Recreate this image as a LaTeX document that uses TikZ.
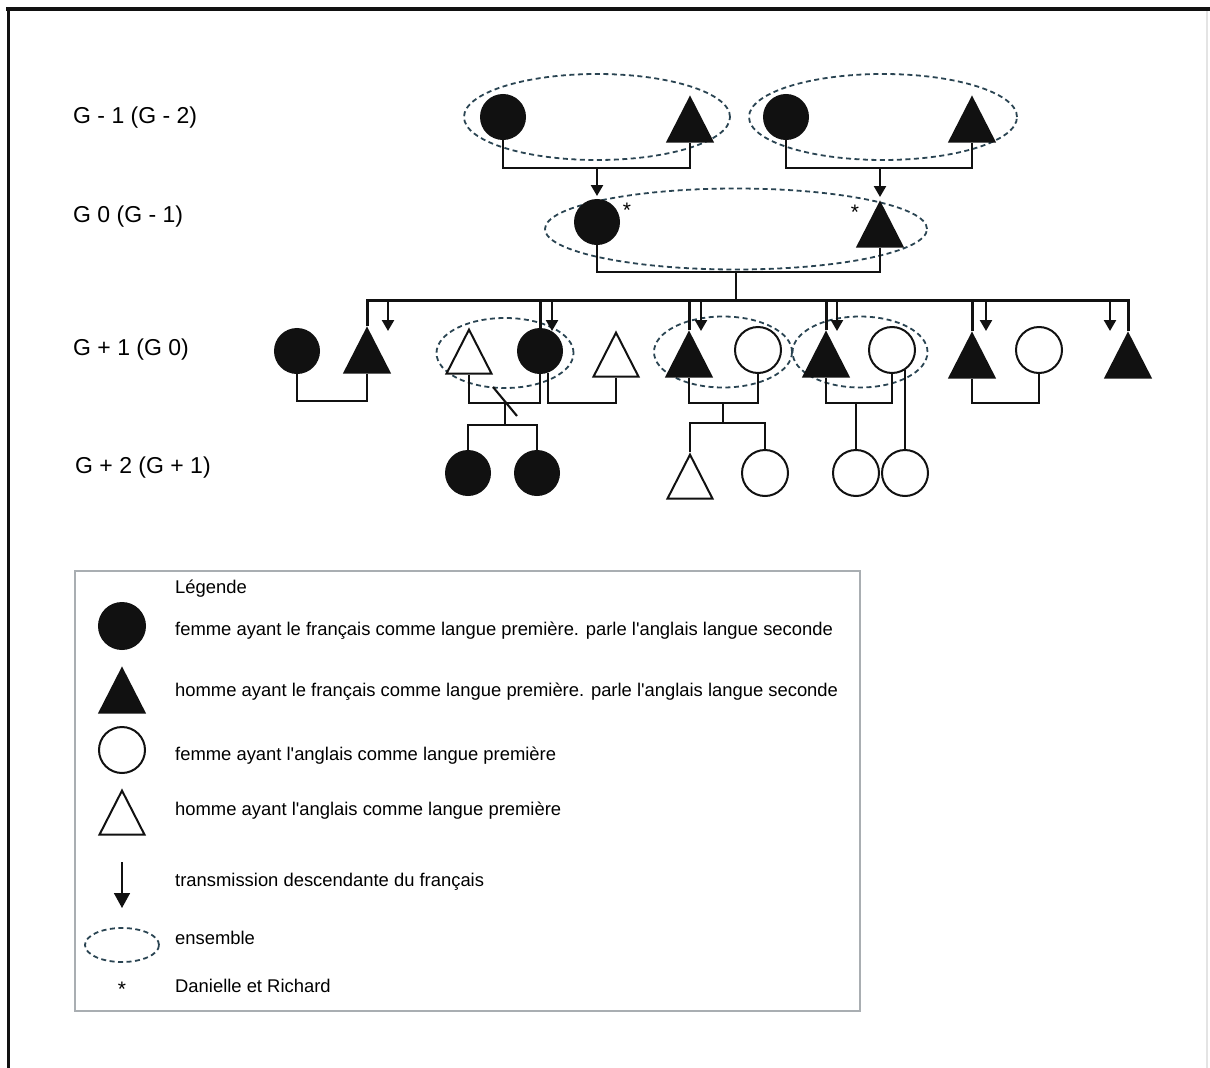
\documentclass[tikz,border=0pt]{standalone}
\usepackage{fontspec}
\setmainfont{Liberation Sans}[Ligatures=TeXOff]
\usetikzlibrary{arrows.meta,shapes.geometric}
\definecolor{ink}{HTML}{111111}
\definecolor{dashink}{HTML}{2A4452}
\definecolor{boxgray}{HTML}{A9AEB2}
\definecolor{edgegray}{HTML}{E4E4E4}
\tikzset{
  fillcirc/.style={circle,draw=ink,fill=ink,line width=2pt,minimum size=44pt,inner sep=0pt},
  opencirc/.style={circle,draw=ink,fill=white,line width=2pt,minimum size=46pt,inner sep=0pt},
  filltri/.style={isosceles triangle,isosceles triangle stretches,shape border rotate=90,draw=ink,fill=ink,line width=2pt,minimum width=45pt,minimum height=44pt,inner sep=0pt,anchor=apex},
  opentri/.style={filltri,fill=white},
  ensemble/.style={ellipse,draw=dashink,dash pattern=on 5pt off 3.5pt,line width=1.8pt,inner sep=0pt},
  kinline/.style={draw=ink,line width=2.1pt},
  sibline/.style={draw=ink,line width=3pt},
  transarr/.style={-{Triangle[length=11pt,width=12pt]},line width=2.4pt,draw=ink},
  legarr/.style={-{Triangle[length=15pt,width=16pt]},line width=1.6pt,draw=ink},
  gentext/.style={font=\fontsize{23}{27}\selectfont,anchor=west,inner sep=0pt},
  legtext/.style={font=\fontsize{18.4}{22}\selectfont,anchor=west,inner sep=0pt},
  starmark/.style={font=\fontsize{21}{22}\selectfont,inner sep=0pt}
}

\begin{document}
\begin{tikzpicture}[x=1pt,y=-1pt]
  \useasboundingbox (0,0) rectangle (1210,1068);
  % cadre
  \draw[ink,line width=3.5pt] (6,9) -- (1210,9);
  \draw[ink,line width=3pt] (8,7.25) -- (8,1068);
  \draw[edgegray,line width=1.5pt] (1207,11) -- (1207,1068);

  % generations
  \node[gentext] (genA) at (73,118) {G - 1 (G - 2)};
  \node[gentext] (genB) at (73,217) {G 0 (G - 1)};
  \node[gentext] (genC) at (73,350) {G + 1 (G 0)};
  \node[gentext] (genD) at (75,468) {G + 2 (G + 1)};

  % G - 1
  \node[ensemble,minimum width=266pt,minimum height=86pt] (ensA) at (597,117) {};
  \node[ensemble,minimum width=268pt,minimum height=86pt] (ensB) at (883,117) {};
  \node[fillcirc] (gmA) at (503,117) {};
  \node[filltri] (gpA) at (690,95) {};
  \node[fillcirc] (gmB) at (786,117) {};
  \node[filltri] (gpB) at (972,95) {};
  \coordinate (coupleA) at (597,168);
  \coordinate (coupleB) at (880,168);
  \draw[kinline] (gmA.south) |- (coupleA) -| (gpA.lower side);
  \draw[kinline] (gmB.south) |- (coupleB) -| (gpB.lower side);

  % G 0
  \node[ensemble,minimum width=382pt,minimum height=81pt] (ensC) at (736,229) {};
  \node[fillcirc] (danielle) at (597,222) {};
  \node[filltri] (richard) at (880,200) {};
  \node[starmark] (starD) at (627,210) {*};
  \node[starmark] (starR) at (855,212) {*};
  \draw[transarr,shorten >=3pt] (coupleA) -- (danielle.north);
  \draw[transarr,shorten >=3pt] (coupleB) -- (richard.apex);
  \coordinate (coupleC) at (736,272);
  \coordinate (sibM) at (736,300);
  \coordinate (sibR) at (1128,300);
  \draw[kinline] (danielle.south) |- (coupleC) -| (richard.lower side);
  \draw[kinline] (coupleC) -- (sibM);

  % G + 1
  \node[ensemble,minimum width=137pt,minimum height=70pt] (ensD) at (505,353) {};
  \node[ensemble,minimum width=138pt,minimum height=71pt] (ensE) at (723,352) {};
  \node[ensemble,minimum width=135pt,minimum height=71pt] (ensF) at (860,352) {};
  \node[fillcirc] (bru1) at (297,351) {};
  \node[filltri] (fils1) at (367,326) {};
  \node[opentri] (gendre2) at (469,327) {};
  \node[fillcirc] (fille2) at (540,351) {};
  \node[opentri] (gendre2b) at (616,330) {};
  \node[filltri] (fils3) at (689,330) {};
  \node[opencirc] (bru3) at (758,350) {};
  \node[filltri] (fils4) at (826,330) {};
  \node[opencirc] (bru4) at (892,350) {};
  \node[filltri] (fils5) at (972,331) {};
  \node[opencirc] (bru5) at (1039,350) {};
  \node[filltri] (fils6) at (1128,331) {};

  \draw[sibline] (fils1.apex) |- (sibR) -- (fils6.apex);
  \draw[sibline] (fille2.north |- sibR) -- (fille2.north);
  \draw[sibline] (fils3.apex |- sibR) -- (fils3.apex);
  \draw[sibline] (fils4.apex |- sibR) -- (fils4.apex);
  \draw[sibline] (fils5.apex |- sibR) -- (fils5.apex);
  \foreach \ax [count=\i] in {388,552,701,837,986,1110} {
    \coordinate (arrA\i) at (\ax,300);
    \coordinate (arrB\i) at (\ax,331);
    \draw[transarr] (arrA\i) -- (arrB\i);
  }

  \coordinate (uA) at (332,401);
  \coordinate (uB) at (505,403);
  \coordinate (uC) at (581,403);
  \coordinate (uD) at (723,403);
  \coordinate (uE) at (856,403);
  \coordinate (uF) at (1005,403);
  \draw[kinline] (bru1.south) |- (uA) -| (fils1.lower side);
  \draw[kinline] (gendre2.lower side) |- (uB) -| (fille2.south);
  \draw[kinline] (uB) ++(-12,-16) -- ++(24,29);
  \draw[kinline] (fille2.-70) |- (uC) -| (gendre2b.lower side);
  \draw[kinline] (fils3.lower side) |- (uD) -| (bru3.south);
  \draw[kinline] (fils4.lower side) |- (uE) -| (bru4.south);
  \draw[kinline] (fils5.lower side) |- (uF) -| (bru5.south);

  % G + 2
  \node[fillcirc] (pf1) at (468,473) {};
  \node[fillcirc] (pf2) at (537,473) {};
  \node[opentri] (pg3) at (690,452) {};
  \node[opencirc] (pf3) at (765,473) {};
  \node[opencirc] (pf4) at (856,473) {};
  \node[opencirc] (pf5) at (905,473) {};
  \coordinate (sB) at (505,425);
  \coordinate (sD) at (723,423);
  \draw[kinline] (uB) -- (sB);
  \draw[kinline] (pf1.north) |- (sB) -| (pf2.north);
  \draw[kinline] (uD) -- (sD);
  \draw[kinline] (pg3.apex) |- (sD) -| (pf3.north);
  \draw[kinline] (uE) -- (pf4.north);
  \draw[kinline] (bru4.-56) -- (bru4.-56 |- pf5.north);

  % legende
  \draw[boxgray,line width=2.5pt] (75,571) rectangle (860,1011);
  \node[legtext] (legTitle) at (175,589) {Légende};
  \node[fillcirc,minimum size=46pt] (symA) at (122,626) {};
  \node[legtext] (legA) at (175,631) {femme ayant le français comme langue première. parle l'anglais langue seconde};
  \node[filltri] (symB) at (122,666) {};
  \node[legtext] (legB) at (175,692) {homme ayant le français comme langue première. parle l'anglais langue seconde};
  \node[opencirc] (symC) at (122,750) {};
  \node[legtext] (legC) at (175,756) {femme ayant l'anglais comme langue première};
  \node[opentri] (symD) at (122,788) {};
  \node[legtext] (legD) at (175,811) {homme ayant l'anglais comme langue première};
  \coordinate (symEa) at (122,862);
  \coordinate (symEb) at (122,908);
  \draw[legarr] (symEa) -- (symEb);
  \node[legtext] (legE) at (175,882) {transmission descendante du français};
  \node[ensemble,minimum width=74pt,minimum height=34pt] (symF) at (122,945) {};
  \node[legtext] (legF) at (175,938) {ensemble};
  \node[starmark] (symG) at (122,989) {*};
  \node[legtext] (legG) at (175,986) {Danielle et Richard};
\end{tikzpicture}
\end{document}
